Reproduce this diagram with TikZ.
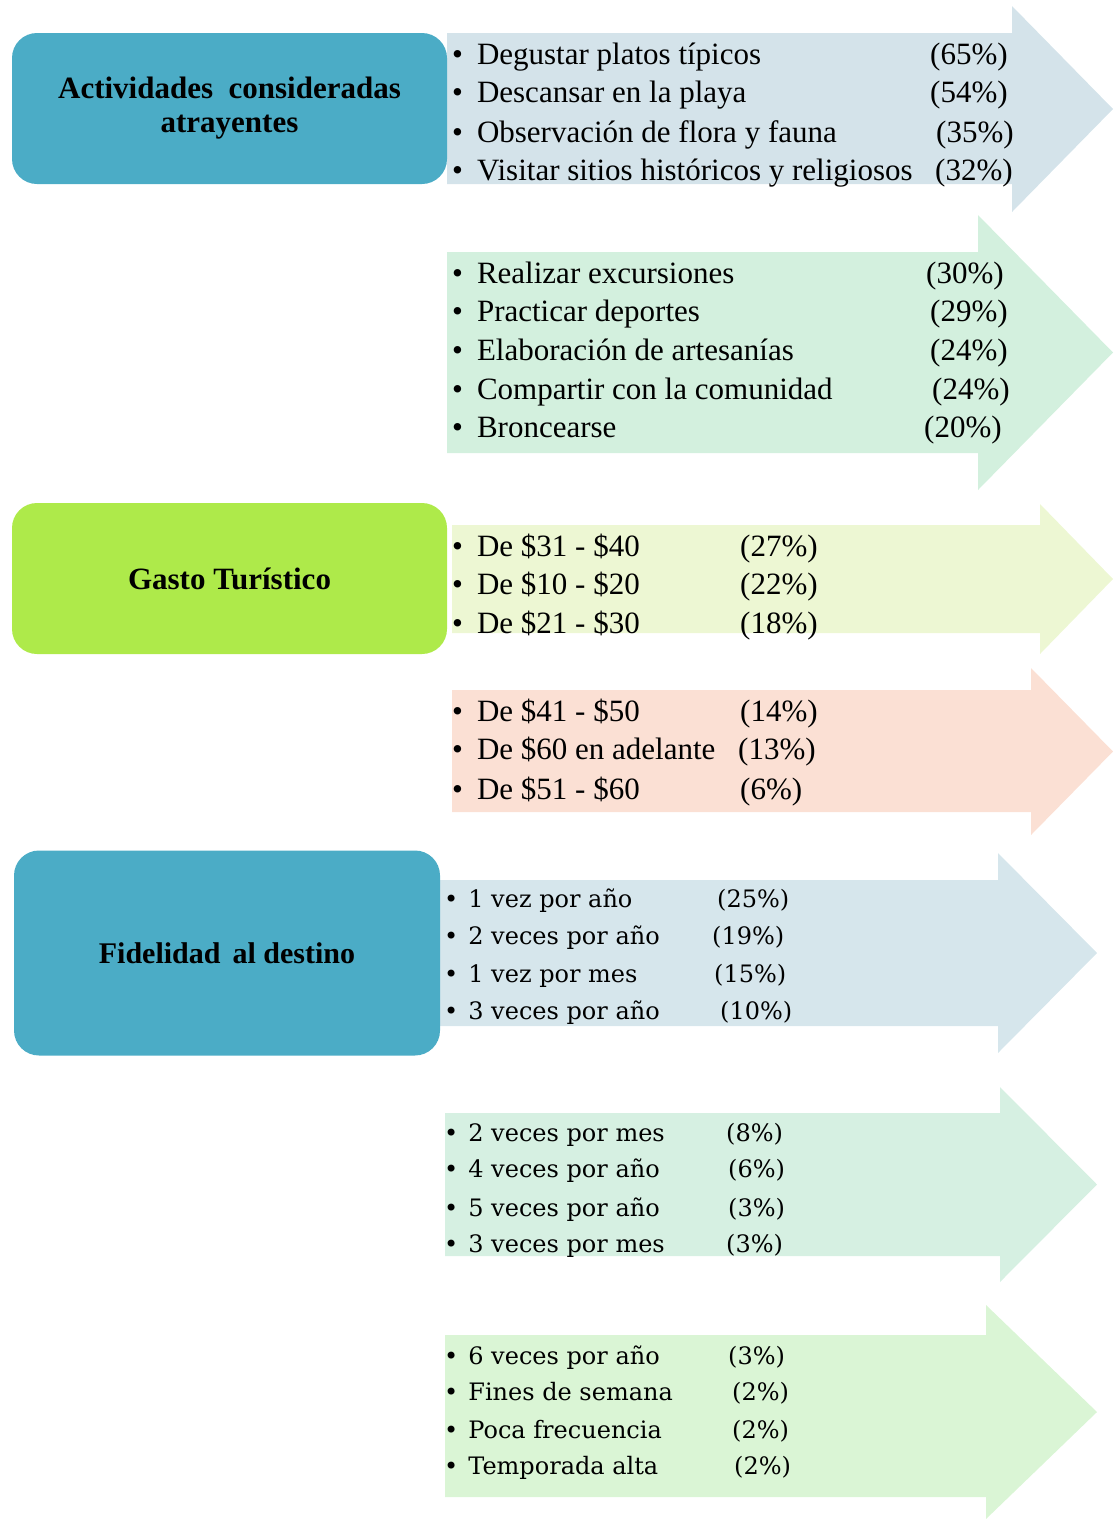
\documentclass[tikz,border=0pt]{standalone}
\usepackage{fontspec}
\setmainfont{Liberation Serif}
\newfontfamily\widefont{DejaVu Serif}
\usetikzlibrary{positioning}

\definecolor{cajaazul}{HTML}{4BACC6}
\definecolor{cajaverde}{HTML}{AEEA4A}
\definecolor{flechaA}{HTML}{D4E3EA}
\definecolor{flechaB}{HTML}{D3F0DE}
\definecolor{flechaC}{HTML}{EDF7D3}
\definecolor{flechaD}{HTML}{FBE0D4}
\definecolor{flechaE}{HTML}{D6E6EC}
\definecolor{flechaF}{HTML}{D6F0E2}
\definecolor{flechaG}{HTML}{DAF5D5}

% colour, left x, head base x, tip x, body top, body bottom, head top, head bottom
\newcommand{\flecha}[8]{%
  \fill[#1] (#2,#5) -- (#3,#5) -- (#3,#7) -- (#4,{(#7+#8)/2}) -- (#3,#8) -- (#3,#6) -- (#2,#6) -- cycle;}
\newcommand{\punto}{•\hspace{14pt}}
\newcommand{\puntob}{•\hspace{10pt}}

\tikzset{
  titulo/.style={rounded corners=25pt, inner sep=0pt, align=center,
    font=\fontsize{31}{34}\selectfont\bfseries},
  renglon/.style={anchor=base west, inner sep=0pt, font=\fontsize{31}{36}\selectfont},
  pct/.style={renglon},
  renglonb/.style={anchor=base west, inner sep=0pt, font=\widefont\fontsize{24}{30}\selectfont},
  pctb/.style={renglonb}
}

\begin{document}
\begin{tikzpicture}[x=1pt, y=-1pt]
  \useasboundingbox (0,0) rectangle (1116,1519);

  % arrows
  \flecha{flechaA}{447}{1012}{1113}{33}{184}{6}{212}
  \flecha{flechaB}{447}{978}{1113}{252}{453}{215}{490}
  \flecha{flechaC}{452}{1040}{1113}{525}{633}{504}{654}
  \flecha{flechaD}{452}{1031}{1113}{690}{812}{668}{835}
  \flecha{flechaE}{440}{998}{1097}{880}{1026}{853}{1053}
  \flecha{flechaF}{445}{1000}{1097}{1113}{1256}{1087}{1282}
  \flecha{flechaG}{445}{986}{1097}{1335}{1497}{1305}{1519}

  % boxes
  \node[titulo, fill=cajaazul, minimum width=435pt, minimum height=151pt] (actividades) at (229.5,108.5) {Actividades\ \ consideradas\\atrayentes};
  \node[titulo, fill=cajaverde, minimum width=435pt, minimum height=151pt] (gasto) at (229.5,578.5) {Gasto Turístico};
  \node[titulo, fill=cajaazul, minimum width=426pt, minimum height=205pt, font=\fontsize{30}{34}\selectfont\bfseries] (fidelidad) at (227,953) {Fidelidad\hspace{12pt}al destino};

  % actividades
  \node[renglon] (a1) at (452,64) {\punto Degustar platos típicos};
  \node[renglon] (a2) at (452,102) {\punto Descansar en la playa};
  \node[renglon] (a3) at (452,142) {\punto Observación de flora y fauna};
  \node[renglon] (a4) at (452,180) {\punto Visitar sitios históricos y religiosos};
  \node[pct] (pa1) at (930,64) {(65\%)};
  \node[pct] (pa2) at (930,102) {(54\%)};
  \node[pct] (pa3) at (936,142) {(35\%)};
  \node[pct] (pa4) at (935,180) {(32\%)};

  \node[renglon] (b1) at (452,283) {\punto Realizar excursiones};
  \node[renglon] (b2) at (452,321) {\punto Practicar deportes};
  \node[renglon] (b3) at (452,360) {\punto Elaboración de artesanías};
  \node[renglon] (b4) at (452,399) {\punto Compartir con la comunidad};
  \node[renglon] (b5) at (452,437) {\punto Broncearse};
  \node[pct] (pb1) at (926,283) {(30\%)};
  \node[pct] (pb2) at (930,321) {(29\%)};
  \node[pct] (pb3) at (930,360) {(24\%)};
  \node[pct] (pb4) at (932,399) {(24\%)};
  \node[pct] (pb5) at (924,437) {(20\%)};

  % gasto
  \node[renglon] (c1) at (452,556) {\punto De \$31 - \$40};
  \node[renglon] (c2) at (452,594) {\punto De \$10 - \$20};
  \node[renglon] (c3) at (452,633) {\punto De \$21 - \$30};
  \node[pct] (pc1) at (740,556) {(27\%)};
  \node[pct] (pc2) at (740,594) {(22\%)};
  \node[pct] (pc3) at (740,633) {(18\%)};

  \node[renglon] (d1) at (452,721) {\punto De \$41 - \$50};
  \node[renglon] (d2) at (452,759) {\punto De \$60 en adelante};
  \node[renglon] (d3) at (452,799) {\punto De \$51 - \$60};
  \node[pct] (pd1) at (740,721) {(14\%)};
  \node[pct] (pd2) at (738,759) {(13\%)};
  \node[pct] (pd3) at (740,799) {(6\%)};

  % fidelidad
  \node[renglonb] (e1) at (444,907) {\puntob 1 vez por año};
  \node[renglonb] (e2) at (444,944) {\puntob 2 veces por año};
  \node[renglonb] (e3) at (444,982) {\puntob 1 vez por mes};
  \node[renglonb] (e4) at (444,1019) {\puntob 3 veces por año};
  \node[pctb] (pe1) at (717,907) {(25\%)};
  \node[pctb] (pe2) at (712,944) {(19\%)};
  \node[pctb] (pe3) at (714,982) {(15\%)};
  \node[pctb] (pe4) at (720,1019) {(10\%)};

  \node[renglonb] (f1) at (444,1141) {\puntob 2 veces por mes};
  \node[renglonb] (f2) at (444,1177) {\puntob 4 veces por año};
  \node[renglonb] (f3) at (444,1216) {\puntob 5 veces por año};
  \node[renglonb] (f4) at (444,1252) {\puntob 3 veces por mes};
  \node[pctb] (pf1) at (726,1141) {(8\%)};
  \node[pctb] (pf2) at (728,1177) {(6\%)};
  \node[pctb] (pf3) at (728,1216) {(3\%)};
  \node[pctb] (pf4) at (726,1252) {(3\%)};

  \node[renglonb] (g1) at (444,1364) {\puntob 6 veces por año};
  \node[renglonb] (g2) at (444,1400) {\puntob Fines de semana};
  \node[renglonb] (g3) at (444,1438) {\puntob Poca frecuencia};
  \node[renglonb] (g4) at (444,1474) {\puntob Temporada alta};
  \node[pctb] (pg1) at (728,1364) {(3\%)};
  \node[pctb] (pg2) at (732,1400) {(2\%)};
  \node[pctb] (pg3) at (732,1438) {(2\%)};
  \node[pctb] (pg4) at (734,1474) {(2\%)};
\end{tikzpicture}
\end{document}
